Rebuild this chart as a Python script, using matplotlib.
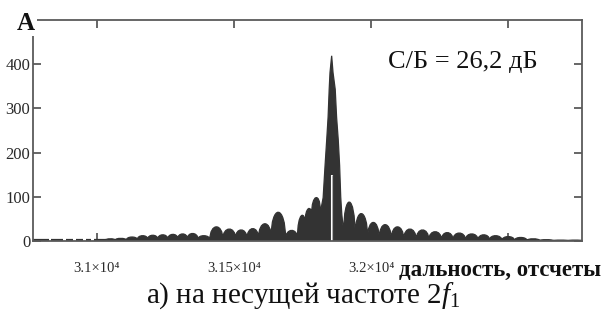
import matplotlib
matplotlib.use("Agg")
import matplotlib.pyplot as plt
from matplotlib.path import Path
from matplotlib.patches import PathPatch

plt.rcParams['font.family'] = ['Liberation Serif', 'DejaVu Serif']
plt.rcParams['mathtext.fontset'] = 'custom'
plt.rcParams['mathtext.rm'] = 'Liberation Serif'
plt.rcParams['mathtext.it'] = 'Liberation Serif:italic'

# ---- data ----
x_min, x_max = 30768, 32768
y_min, y_max = 0, 500
xtick_values = [31000, 31500, 32000, 32500]
xtick_labels = ["3.1×10⁴", "3.15×10⁴", "3.2×10⁴", ""]
ytick_values = [0, 100, 200, 300, 400]
ytick_labels = ["0", "100", "200", "300", "400"]

# low-level noise at the left edge (segments at the baseline)
noise_starts = [30768, 30835, 30890, 30925, 30962, 30990]
noise_ends = [30825, 30878, 30915, 30950, 30978, 31035]
noise_level = 2

# sidelobes left of the main lobe: centre, height; valleys after each lobe
left_centres = [31047, 31088, 31128, 31168, 31204, 31241, 31277, 31314, 31347, 31391,
                31434, 31485, 31526, 31569, 31610, 31661, 31715, 31748, 31770, 31796]
left_heights = [5, 6, 9, 12, 13, 14, 15, 16, 17, 12,
                32, 27, 25, 28, 39, 65, 24, 57, 73, 98]
left_valleys = [1, 2, 2, 3, 4, 4, 4, 5, 5, 4, 3,
                4, 6, 5, 6, 8, 4, 6, 40, 60, 73]
left_start, left_end = 31030, 31814

# main lobe outline
main_x = [31814, 31818, 31825, 31832, 31838, 31843, 31847, 31850, 31856,
          31861, 31869, 31874, 31880, 31885, 31889, 31893, 31900]
main_y = [73, 75, 98, 171, 229, 280, 343, 381, 419,
          381, 343, 280, 229, 171, 100, 60, 19]
notch_x, notch_top = 31856, 150

# sidelobes right of the main lobe
right_centres = [31916, 31967, 32007, 32051, 32095, 32142, 32186, 32234, 32278, 32318,
                 32369, 32409, 32453, 32500, 32544, 32591, 32635, 32690, 32745]
right_heights = [88, 62, 42, 37, 32, 27, 25, 21, 19, 18,
                 16, 14, 12, 10, 8, 5, 3, 2, 2]
right_valleys = [19, 10, 6, 4, 3, 3, 2, 2, 2, 2,
                 2, 2, 2, 1, 1, 1, 1, 1, 1, 1]
right_end = 32768

snr_text = "С/Б = 26,2 дБ"
y_title = "A"
x_title = "дальность, отсчеты"
caption = "а) на несущей частоте 2$f_1$"

# ---- figure ----
fig = plt.figure(figsize=(6.1, 3.2), dpi=100)
ax = fig.add_axes([33/610, 1-241/320, (582-33)/610, (241-20)/320])
ax.set_xlim(x_min, x_max)
ax.set_ylim(y_min, y_max)


def lobe_bounds(centres, start, end):
    b = [start]
    for a, c in zip(centres[:-1], centres[1:]):
        b.append((a + c) / 2)
    b.append(end)
    return b


verts, codes = [], []


def add_lobes(centres, heights, valleys, start, end, first):
    b = lobe_bounds(centres, start, end)
    if first:
        verts.append((start, 0)); codes.append(Path.MOVETO)
    verts.append((start, valleys[0])); codes.append(Path.LINETO)
    for i, h in enumerate(heights):
        a, c = valleys[i], valleys[i + 1]
        hc = (h - (a + c) / 8) / 0.75
        verts.extend([(b[i], hc), (b[i + 1], hc), (b[i + 1], c)])
        codes.extend([Path.CURVE4] * 3)


add_lobes(left_centres, left_heights, left_valleys, left_start, left_end, True)
for mx, my in zip(main_x, main_y):
    verts.append((mx, my)); codes.append(Path.LINETO)
right_start = main_x[-1]
add_lobes(right_centres, right_heights, right_valleys, right_start, right_end, False)
verts.append((right_end, 0)); codes.append(Path.LINETO)
verts.append((left_start, 0)); codes.append(Path.CLOSEPOLY)

sig_color = '#333333'
ax.add_patch(PathPatch(Path(verts, codes), facecolor=sig_color, edgecolor=sig_color,
                       lw=0.9, zorder=2))
ax.hlines([noise_level] * len(noise_starts), noise_starts, noise_ends,
          color=sig_color, lw=1.6, zorder=2)
ax.vlines([notch_x], 0, notch_top, color='white', lw=1.5, zorder=3)
ax.vlines([notch_x], 0, notch_top, color='#888888', lw=0.5, zorder=4)

# axes style
spine_color = '#5a5a5a'
for s in ax.spines.values():
    s.set_color(spine_color)
    s.set_linewidth(1.3)
    s.set_zorder(5)
ax.set_xticks(xtick_values)
ax.set_xticklabels(xtick_labels)
ax.set_yticks(ytick_values)
ax.set_yticklabels(ytick_labels)
ax.tick_params(direction='in', length=6, width=1.3, color=spine_color,
               top=True, right=True, labelsize=12, labelcolor='#2a2a2a')
ax.tick_params(axis='y', pad=2)
ax.tick_params(axis='x', pad=15, labelsize=10.5)

ax.text(388, 320-62, snr_text, transform=None, fontsize=19, va='center', ha='left',
        color='#111111')
fig.text(17/610, 1-23/320, y_title, fontsize=18, fontweight='bold', ha='left',
         va='center', color='#111111',
         bbox=dict(facecolor='white', edgecolor='none', pad=1))
fig.text(399/610, 1-270/320, x_title, fontsize=16.5, fontweight='bold', ha='left',
         va='center', color='#111111')
fig.text(303/610, 1-296/320, caption, fontsize=21, ha='center', va='center',
         color='#111111')

fig.savefig('out.png', dpi=100)
